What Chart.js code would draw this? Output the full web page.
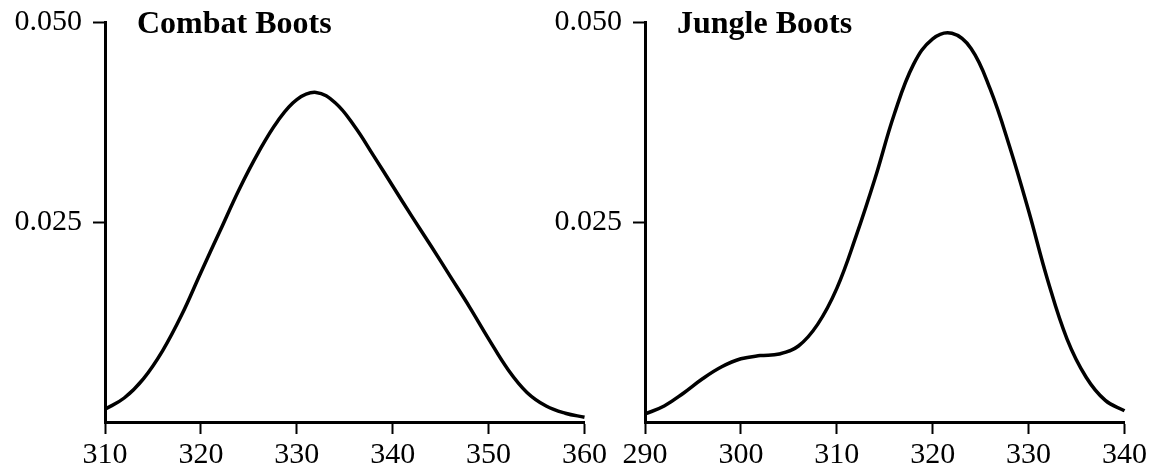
<!DOCTYPE html>
<html>
<head>
<meta charset="utf-8">
<script src="https://cdn.jsdelivr.net/npm/chart.js@4"></script>
<style>
  html, body { margin: 0; padding: 0; background: #fff; overflow: hidden; }
  #wrap { position: relative; width: 1150px; height: 470px; overflow: hidden; }
  canvas { position: absolute; top: -7px; }
</style>
</head>
<body>
<div id="wrap">
  <canvas id="combat" width="610" height="483" style="left:0px"></canvas>
  <canvas id="jungle" width="610" height="483" style="left:540px"></canvas>
</div>
<script>
// density estimates
var combatX = [310, 312, 314, 316, 318, 320, 322, 324, 326, 328, 330, 332, 334, 336, 338, 340, 342, 344, 346, 348, 350, 352, 354, 356, 358, 360];
var combatY = [0.0016, 0.0030, 0.0054, 0.0089, 0.0134, 0.0187, 0.0239, 0.0291, 0.0337, 0.0376, 0.0403, 0.0412, 0.0399, 0.0370, 0.0333, 0.0295, 0.0257, 0.0220, 0.0182, 0.0144, 0.0104, 0.0066, 0.0037, 0.0020, 0.0011, 0.0006];

var jungleX = [290, 292, 294, 296, 298, 300, 302, 304, 306, 308, 310, 312, 314, 316, 318, 320, 322, 324, 326, 328, 330, 332, 334, 336, 338, 340];
var jungleY = [0.0010, 0.0020, 0.0036, 0.0054, 0.0069, 0.0079, 0.0083, 0.0085, 0.0095, 0.0122, 0.0167, 0.0232, 0.0305, 0.0385, 0.0447, 0.0479, 0.0486, 0.0467, 0.0416, 0.0345, 0.0264, 0.0177, 0.0104, 0.0056, 0.0027, 0.0014];

var yTicks = [0.025, 0.05];

var FONT = '"Liberation Serif", "Times New Roman", serif';

// title drawn inside the plot, next to the top of the y axis
var panelTitle = {
  id: "panelTitle",
  afterDraw: function (chart) {
    var ctx = chart.ctx;
    ctx.save();
    ctx.font = "bold 32px " + FONT;
    ctx.fillStyle = "#000";
    ctx.textBaseline = "alphabetic";
    ctx.fillText(chart.options.plugins.panelTitle.text, chart.chartArea.left + 32, chart.chartArea.top + 11);
    ctx.restore();
  }
};

function makeChart(id, title, xs, ys, xMin, xMax) {
  var pts = xs.map(function (x, i) { return { x: x, y: ys[i] }; });
  return new Chart(document.getElementById(id).getContext("2d"), {
    type: "line",
    data: {
      datasets: [{
        data: pts,
        borderColor: "#000",
        borderWidth: 3.5,
        pointRadius: 0,
        fill: false,
        tension: 0.4,
        clip: false
      }]
    },
    options: {
      responsive: false,
      animation: false,
      layout: { padding: { top: 4, right: 4, bottom: 0, left: 0 } },
      plugins: {
        legend: { display: false },
        tooltip: { enabled: false },
        panelTitle: { text: title }
      },
      scales: {
        x: {
          type: "linear",
          min: xMin,
          max: xMax,
          border: { display: true, color: "#000", width: 3 },
          grid: { drawOnChartArea: false, drawTicks: true, tickLength: 12, tickWidth: 2, tickColor: "#000" },
          ticks: { stepSize: 10, color: "#000", font: { family: FONT, size: 30 }, padding: 3, maxRotation: 0 }
        },
        y: {
          min: 0,
          max: 0.05,
          afterBuildTicks: function (scale) {
            scale.ticks = yTicks.map(function (v) { return { value: v }; });
          },
          afterFit: function (scale) { scale.width = 105; },
          border: { display: true, color: "#000", width: 3 },
          grid: { drawOnChartArea: false, drawTicks: true, tickLength: 12, tickWidth: 2, tickColor: "#000" },
          ticks: {
            color: "#000",
            font: { family: FONT, size: 30 },
            padding: 11,
            callback: function (v) { return Number(v).toFixed(3); }
          }
        }
      }
    },
    plugins: [panelTitle]
  });
}

makeChart("combat", "Combat Boots", combatX, combatY, 310, 360);
makeChart("jungle", "Jungle Boots", jungleX, jungleY, 290, 340);
</script>
</body>
</html>
